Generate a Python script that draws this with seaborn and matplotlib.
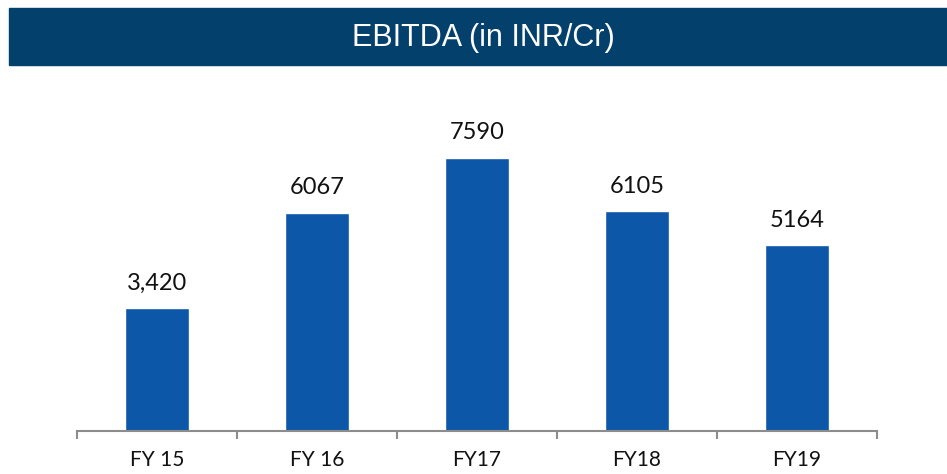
import matplotlib
matplotlib.use('Agg')
import matplotlib.pyplot as plt
import seaborn as sns
import pandas as pd
import numpy as np

# Chart data
years = ['FY 15', 'FY 16', 'FY17', 'FY18', 'FY19']
ebitda = [3420, 6067, 7590, 6105, 5164]
value_labels = ['3,420', '6067', '7590', '6105', '5164']

df = pd.DataFrame({'year': years, 'ebitda': ebitda})

sns.set_theme(style='white')
plt.rcParams['font.family'] = ['Lato', 'DejaVu Sans']

fig = plt.figure(figsize=(9.47, 4.74), dpi=100)

# Title banner
fig.patches.append(plt.Rectangle((9 / 947, 1 - 65 / 474), 938 / 947, 57 / 474,
                                 transform=fig.transFigure, color='#04406c', zorder=0))
fig.text(483 / 947, 1 - 38 / 474, 'EBITDA (in INR/Cr)', color='white', fontsize=22,
         ha='center', va='center', family=['Liberation Sans', 'DejaVu Sans'])

ax = fig.add_axes([77 / 947, 43 / 474, 800 / 947, 336 / 474])
sns.barplot(data=df, x='year', y='ebitda', color='#0d57a8', saturation=1,
            width=0.4, ax=ax)

ax.set_xlim(-0.5, len(years) - 0.5)
ax.set_ylim(0, 9341)
ax.set_xlabel('')
ax.set_ylabel('')
ax.set_yticks([])

for i, (v, lab) in enumerate(zip(ebitda, value_labels)):
    ax.annotate(lab, (i, v), xytext=(0, 18), textcoords='offset points',
                ha='center', va='center', fontsize=17, color='#111111')

for s in ['top', 'right', 'left']:
    ax.spines[s].set_visible(False)
ax.spines['bottom'].set_color('#8c8c8c')
ax.spines['bottom'].set_linewidth(1.5)

ax.set_xticks(np.arange(-0.5, len(years)), minor=True)
ax.tick_params(axis='x', which='minor', length=6, width=1.5, color='#8c8c8c',
               direction='out', bottom=True)
ax.tick_params(axis='x', which='major', length=0, pad=14, labelsize=15,
               labelcolor='#111111')

fig.savefig('out.png', dpi=100)
